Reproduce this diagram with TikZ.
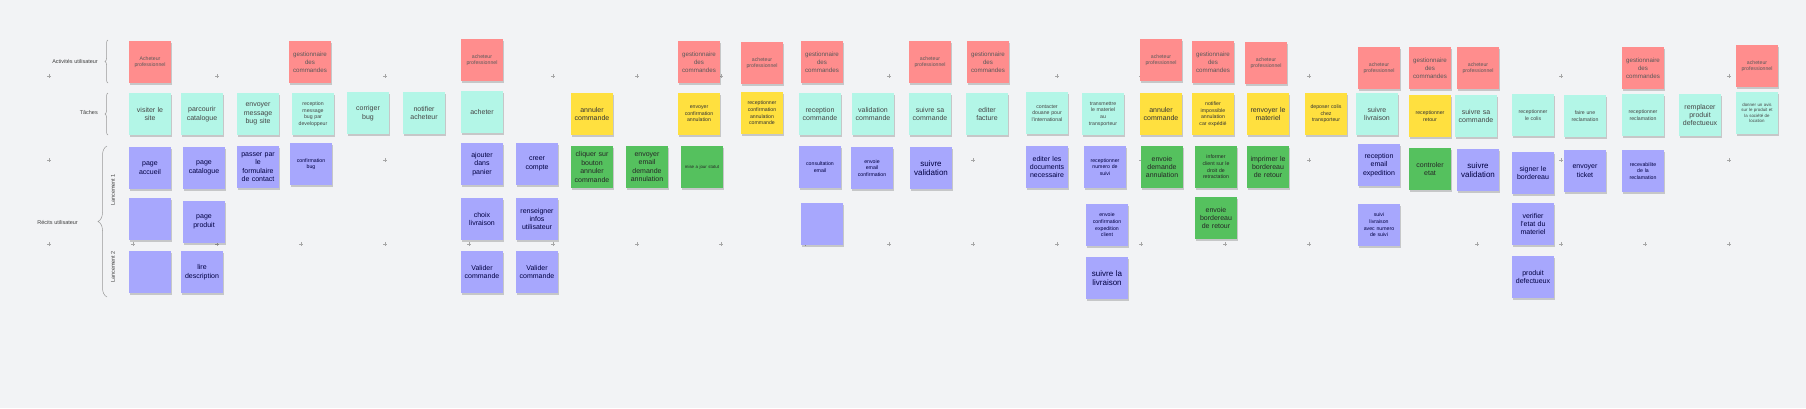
\documentclass[tikz,border=0pt]{standalone}
\usepackage{fontspec}
\setmainfont{Liberation Sans}
\usepackage{tikz}
\usepackage{xcolor}
\usetikzlibrary{shadows,decorations.pathreplacing}

\definecolor{fond}{HTML}{F2F3F5}
\definecolor{rouge}{HTML}{FF8D8D}
\definecolor{cyan}{HTML}{B3F6E7}
\definecolor{violet}{HTML}{A7A7FD}
\definecolor{jaune}{HTML}{FFE03F}
\definecolor{vert}{HTML}{55C15E}
\definecolor{texte}{HTML}{454545}

\begin{document}
\begin{tikzpicture}[x=1pt, y=-1pt,
    postit/.style={rectangle, minimum width=42pt, minimum height=42pt, inner sep=1pt,
        text width=40pt, align=center, text=texte, font=\fontsize{7}{8.4}\selectfont,
        drop shadow={shadow xshift=0.8pt, shadow yshift=-1.6pt, fill=black, opacity=0.18}},
    activite/.style={postit, fill=rouge, text=black!65, font=\fontsize{6.2}{7.8}\selectfont},
    tache/.style={postit, fill=cyan},
    attente/.style={postit, fill=jaune, text=black!80},
    recit/.style={postit, fill=violet, text=black!75!blue},
    action/.style={postit, fill=vert, text=black!85},
    petit/.style={font=\fontsize{5.2}{6.6}\selectfont},
    minus/.style={font=\fontsize{4.4}{5.6}\selectfont},
    grand/.style={font=\fontsize{8}{9.6}\selectfont},
    legende/.style={font=\fontsize{5.5}{6.5}\selectfont, text=black!75, inner sep=0pt},
    accolade/.style={draw=black!40, line width=0.5pt, decorate}]

    % Fond
    \fill[fond] (0,0) rectangle (1806,408);
    \useasboundingbox (0,0) rectangle (1806,408);
    \foreach \i in {0,...,20}
        \foreach \y in {76,160,244}
            \draw[black!35, line width=0.4pt] (49+84*\i-2,\y) -- ++(4,0) (49+84*\i,\y-2) -- ++(0,4);

    % Legendes
    \node[legende, anchor=east] (lact) at (98,61) {Activités utilisateur};
    \node[legende, anchor=east] (ltache) at (98,113) {Tâches};
    \node[legende, anchor=east] (lrecit) at (78,222) {Récits utilisateur};
    \node[legende, rotate=90] (lanc1) at (113,190) {Lancement 1};
    \node[legende, rotate=90] (lanc2) at (113,267) {Lancement 2};
    \draw[accolade, decoration={brace, amplitude=3pt}] (108,83) -- (108,40);
    \draw[accolade, decoration={brace, amplitude=3pt}] (108,135) -- (108,93);
    \draw[accolade, decoration={brace, amplitude=9pt}] (107,297) -- (107,146);

    % Activites utilisateur
    \node[activite, petit] (a1) at (150,62) {Acheteur\\professionnel};
    \node[activite] (a2) at (310,62) {gestionnaire\\des\\commandes};
    \node[activite, petit] (a3) at (482,60) {acheteur\\professionnel};
    \node[activite] (a4) at (699,62) {gestionnaire\\des\\commandes};
    \node[activite, petit] (a5) at (762,63) {acheteur\\professionnel};
    \node[activite] (a6) at (822,62) {gestionnaire\\des\\commandes};
    \node[activite, petit] (a7) at (930,62) {acheteur\\professionnel};
    \node[activite] (a8) at (988,62) {gestionnaire\\des\\commandes};
    \node[activite, petit] (a9) at (1161,60) {acheteur\\professionnel};
    \node[activite] (a10) at (1213,62) {gestionnaire\\des\\commandes};
    \node[activite, petit] (a11) at (1266,63) {acheteur\\professionnel};
    \node[activite, petit] (a12) at (1379,68) {acheteur\\professionnel};
    \node[activite] (a13) at (1430,68) {gestionnaire\\des\\commandes};
    \node[activite, petit] (a14) at (1478,68) {acheteur\\professionnel};
    \node[activite] (a15) at (1643,68) {gestionnaire\\des\\commandes};
    \node[activite, petit] (a16) at (1757,66) {acheteur\\professionnel};

    % Taches
    \node[tache] (t1) at (150,114) {visiter le\\site};
    \node[tache] (t2) at (202,114) {parcourir\\catalogue};
    \node[tache] (t3) at (258,114) {envoyer\\message\\bug site};
    \node[tache, petit] (t4) at (313,114) {reception\\message\\bug par\\developpeur};
    \node[tache] (t5) at (368,113) {corriger\\bug};
    \node[tache] (t6) at (424,113) {notifier\\acheteur};
    \node[tache] (t7) at (482,112) {acheter};
    \node[attente] (t8) at (592,114) {annuler\\commande};
    \node[attente, petit] (t9) at (699,114) {envoyer\\confirmation\\annulation};
    \node[attente, petit] (t10) at (762,113) {receptionner\\confirmation\\annulation\\commande};
    \node[tache] (t11) at (820,114) {reception\\commande};
    \node[tache] (t12) at (873,114) {validation\\commande};
    \node[tache] (t13) at (930,114) {suivre sa\\commande};
    \node[tache] (t14) at (987,114) {editer\\facture};
    \node[tache, petit] (t15) at (1047,113) {contacter\\douane pour\\l'international};
    \node[tache, petit] (t16) at (1103,114) {transmettre\\le materiel\\au\\transporteur};
    \node[attente] (t17) at (1161,114) {annuler\\commande};
    \node[attente, petit] (t18) at (1213,114) {notifier\\impossible\\annulation\\car expédié};
    \node[attente] (t19) at (1268,114) {renvoyer le\\materiel};
    \node[attente, petit] (t20) at (1326,114) {deposer colis\\chez\\transporteur};
    \node[tache] (t21) at (1377,114) {suivre\\livraison};
    \node[attente, petit] (t22) at (1430,116) {receptionner\\retour};
    \node[tache] (t23) at (1476,116) {suivre sa\\commande};
    \node[tache, petit] (t24) at (1533,115) {receptionner\\le colis};
    \node[tache, petit] (t25) at (1585,116) {faire une\\reclamation};
    \node[tache, petit] (t26) at (1643,115) {receptionner\\reclamation};
    \node[tache] (t27) at (1700,115) {remplacer\\produit\\defectueux};
    \node[tache, minus] (t28) at (1757,113) {donner un avis\\sur le produit et\\la société de\\location};

    % Recits utilisateur
    \node[recit] (r1) at (150,168) {page\\accueil};
    \node[recit] (r2) at (204,168) {page\\catalogue};
    \node[recit] (r3) at (258,167) {passer par\\le\\formulaire\\de contact};
    \node[recit, petit] (r4) at (311,164) {confirmation\\bug};
    \node[recit] (r5) at (150,219) {};
    \node[recit] (r6) at (204,222) {page\\produit};
    \node[recit] (r7) at (150,272) {};
    \node[recit] (r8) at (202,272) {lire\\description};
    \node[recit] (r9) at (482,164) {ajouter\\dans\\panier};
    \node[recit] (r10) at (537,164) {creer\\compte};
    \node[recit] (r11) at (482,219) {choix\\livraison};
    \node[recit] (r12) at (537,219) {renseigner\\infos\\utilisateur};
    \node[recit] (r13) at (482,272) {Valider\\commande};
    \node[recit] (r14) at (537,272) {Valider\\commande};
    \node[action] (r15) at (592,167) {cliquer sur\\bouton\\annuler\\commande};
    \node[action] (r16) at (647,167) {envoyer\\email\\demande\\annulation};
    \node[action, minus] (r17) at (702,167) {mise a jour statut};
    \node[recit, petit] (r18) at (820,167) {consultation\\email};
    \node[recit, petit] (r19) at (872,168) {envoie\\email\\confirmation};
    \node[recit] (r20) at (822,224) {};
    \node[recit, grand] (r21) at (931,168) {suivre\\validation};
    \node[recit] (r22) at (1047,167) {editer les\\documents\\necessaire};
    \node[recit, petit] (r23) at (1105,167) {receptionner\\numero de\\suivi};
    \node[action] (r24) at (1162,167) {envoie\\demande\\annulation};
    \node[recit, petit] (r25) at (1107,225) {envoie\\confirmation\\expedition\\client};
    \node[recit, grand] (r26) at (1107,278) {suivre la\\livraison};
    \node[action, petit] (r27) at (1216,167) {informer\\client sur le\\droit de\\retractation};
    \node[action] (r28) at (1268,167) {imprimer le\\bordereau\\de retour};
    \node[action] (r29) at (1216,218) {envoie\\bordereau\\de retour};
    \node[recit] (r30) at (1379,165) {reception\\email\\expedition};
    \node[action] (r31) at (1430,169) {controler\\etat};
    \node[recit, grand] (r32) at (1478,170) {suivre\\validation};
    \node[recit, petit] (r33) at (1379,225) {suivi\\livraison\\avec numero\\de suivi};
    \node[recit] (r34) at (1533,173) {signer le\\bordereau};
    \node[recit] (r35) at (1585,171) {envoyer\\ticket};
    \node[recit, petit] (r36) at (1643,171) {recevabilite\\de la\\reclamation};
    \node[recit] (r37) at (1533,224) {verifier\\l'etat du\\materiel};
    \node[recit] (r38) at (1533,277) {produit\\defectueux};
\end{tikzpicture}
\end{document}
